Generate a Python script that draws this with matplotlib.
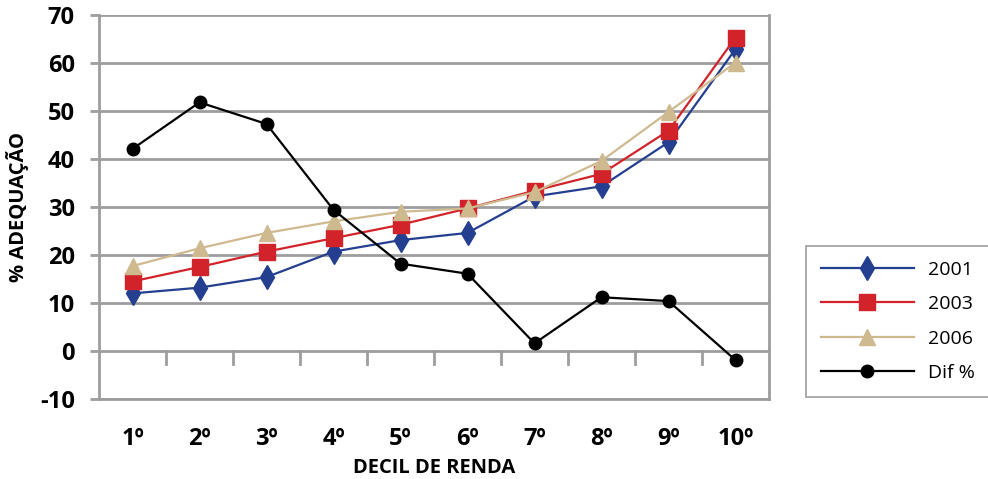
import matplotlib.pyplot as plt

plt.rcParams['font.family'] = ['Open Sans', 'DejaVu Sans']
plt.rcParams['axes.unicode_minus'] = False

decis = ['1º', '2º', '3º', '4º', '5º', '6º', '7º', '8º', '9º', '10º']
serie_2001 = [12.0, 13.2, 15.4, 20.7, 23.1, 24.6, 32.2, 34.3, 43.5, 62.9]
serie_2003 = [14.5, 17.5, 20.7, 23.5, 26.3, 29.7, 33.4, 36.9, 45.9, 65.3]
serie_2006 = [17.7, 21.4, 24.6, 27.0, 29.0, 29.7, 33.1, 39.6, 49.8, 60.1]
dif_pct = [42.1, 51.8, 47.3, 29.4, 18.2, 16.1, 1.6, 11.2, 10.4, -1.9]

GRID = '#9d9d9f'

fig = plt.figure(figsize=(9.88, 4.79), dpi=100)
ax = fig.add_axes([99 / 988, 80 / 479, 670 / 988, 384 / 479])

x = list(range(1, len(decis) + 1))
ax.plot(x, serie_2001, color='#243f8f', lw=1.6, marker='d', ms=12, label='2001', zorder=3)
ax.plot(x, serie_2003, color='#d2232a', lw=1.6, marker='s', ms=12, label='2003', zorder=3)
ax.plot(x, serie_2006, color='#cfb98f', lw=1.6, marker='^', ms=12, label='2006', zorder=3)
ax.plot(x, dif_pct, color='black', lw=1.6, marker='o', ms=9, label='Dif %', zorder=4)

ax.set_xlim(0.5, len(decis) + 0.5)
ax.set_ylim(-10, 70)
ax.set_yticks(range(-10, 71, 10))
ax.yaxis.grid(True, color=GRID, lw=2)
ax.set_axisbelow(True)

# ticks do eixo de categorias, que cruza em zero
for b in range(1, len(decis)):
    ax.plot([b + 0.5, b + 0.5], [0, -2.8], color=GRID, lw=2, zorder=1, clip_on=False)

for side in ['left', 'right', 'bottom']:
    ax.spines[side].set_color(GRID)
    ax.spines[side].set_linewidth(2)
ax.spines['top'].set_visible(False)

ax.set_xticks(x)
ax.set_xticklabels(decis, fontsize=17, fontweight='bold')
ax.tick_params(axis='x', length=0, pad=20)
ax.tick_params(axis='y', length=6.5, width=2, color=GRID, labelsize=17, pad=11)
for lab in ax.get_yticklabels():
    lab.set_fontweight('bold')

ax.set_xlabel('DECIL DE RENDA', fontsize=14.5, fontweight='bold', labelpad=5)
ax.set_ylabel('% ADEQUAÇÃO', fontsize=14.5, fontweight='bold', labelpad=8)

leg = fig.legend(loc='upper left', bbox_to_anchor=(806 / 988, 1 - 246 / 479),
                 fontsize=14, handlelength=4.8, handletextpad=0.7, labelspacing=0.85,
                 borderpad=0.75, borderaxespad=0, fancybox=False, edgecolor=GRID,
                 framealpha=1)
leg.get_frame().set_linewidth(1.2)

fig.savefig('out.png', dpi=100)
